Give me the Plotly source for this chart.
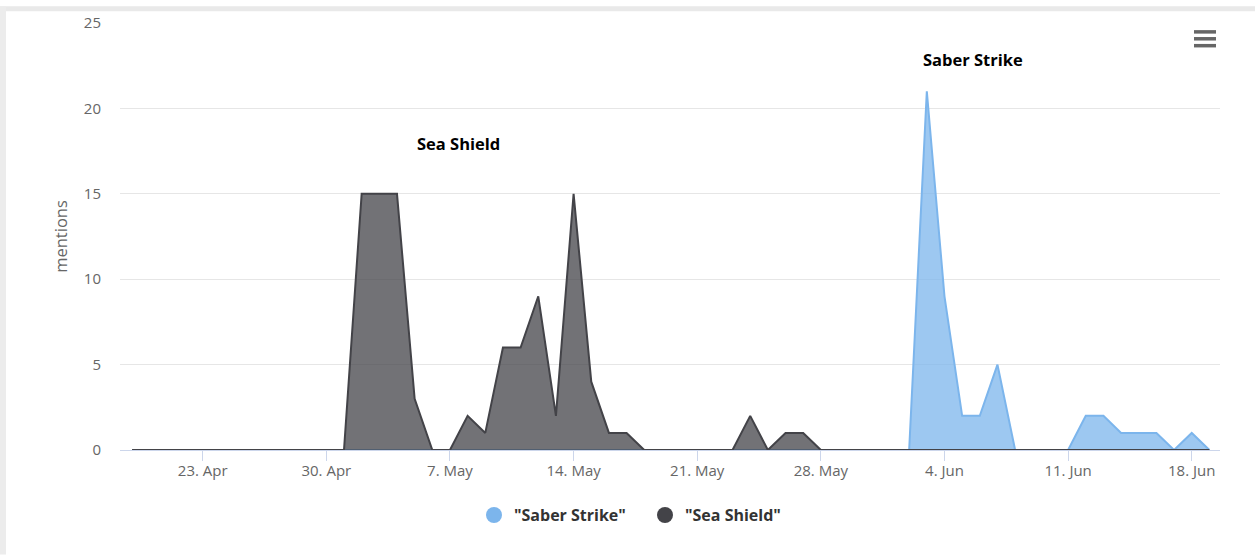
import pandas as pd
import plotly.graph_objects as go

# ---- data ----
start_date = "2013-04-19"
saber_strike = [0]*44 + [0, 21, 9, 2, 2, 5, 0, 0, 0, 0, 2, 2, 1, 1, 1, 0, 1, 0]
sea_shield = ([0]*12 +
              [0, 15, 15, 15, 3, 0, 0, 2, 1, 6, 6, 9, 2, 15, 4, 1, 1, 0,
               0, 0, 0, 0, 0, 2, 0, 1, 1, 0, 0, 0, 0] +
              [0]*19)
dates = pd.date_range(start_date, periods=len(sea_shield), freq="D")

tick_dates = ["2013-04-23", "2013-04-30", "2013-05-07", "2013-05-14", "2013-05-21",
              "2013-05-28", "2013-06-04", "2013-06-11", "2013-06-18"]
tick_labels = ["23. Apr", "30. Apr", "7. May", "14. May", "21. May",
               "28. May", "4. Jun", "11. Jun", "18. Jun"]
y_ticks = [0, 5, 10, 15, 20, 25]
series_names = ['"Saber Strike"', '"Sea Shield"']
annotations_text = ["Sea Shield", "Saber Strike"]

BLUE = "#7cb5ec"
DARK = "#434348"
FONT = "Open Sans"

# plot area in pixels
W, H = 1255, 556
L, R, T, B = 120, 1220, 17, 450
def px(x):
    return (x - L) / (R - L)
def py(y):
    return (B - y) / (B - T)

fig = go.Figure()
fig.add_trace(go.Scatter(x=dates, y=saber_strike, mode="lines", fill="tozeroy",
                         line=dict(color=BLUE, width=2), fillcolor="rgba(124,181,236,0.75)",
                         name=series_names[0], showlegend=False))
fig.add_trace(go.Scatter(x=dates, y=sea_shield, mode="lines", fill="tozeroy",
                         line=dict(color=DARK, width=2), fillcolor="rgba(67,67,72,0.75)",
                         name=series_names[1], showlegend=False))
# legend entries
fig.add_trace(go.Scatter(x=[None], y=[None], mode="markers", name=series_names[0],
                         marker=dict(color=BLUE, size=16, symbol="circle")))
fig.add_trace(go.Scatter(x=[None], y=[None], mode="markers", name=series_names[1],
                         marker=dict(color=DARK, size=16, symbol="circle")))

x_lo = pd.Timestamp("2013-04-18 07:36")
x_hi = pd.Timestamp("2013-06-19 14:24")

fig.update_layout(
    width=W, height=H,
    margin=dict(l=L, r=W - R, t=T, b=H - B),
    paper_bgcolor="white", plot_bgcolor="white",
    font=dict(family=FONT, color="#666666", size=14),
    xaxis=dict(range=[x_lo, x_hi], tickvals=tick_dates, ticktext=tick_labels,
               ticks="outside", ticklen=10, tickcolor="#ccd6eb", tickwidth=1,
               showgrid=False, showline=True, linecolor="#ccd6eb", linewidth=1,
               zeroline=False, ticklabelstandoff=-3, tickfont=dict(size=15, color="#666666")),
    yaxis=dict(range=[0, 25], tickvals=y_ticks, showgrid=True, gridcolor="#e6e6e6",
               gridwidth=1, zeroline=False, showline=False, ticks="",
               ticklabelstandoff=18, tickfont=dict(size=15, color="#666666"),
               title=dict(text="mentions", font=dict(size=16.5, color="#666666"), standoff=12)),
    legend=dict(orientation="h", x=px(474), xanchor="left", y=py(516), yanchor="middle",
                font=dict(family=FONT, size=16, color="#333333", weight="bold"),
                entrywidth=126, entrywidthmode="pixels",
                itemsizing="trace", bgcolor="rgba(0,0,0,0)"),
    showlegend=True,
    annotations=[
        dict(text=annotations_text[0], xref="paper", yref="paper", x=px(458), y=py(139),
             showarrow=False, font=dict(family=FONT, size=16.5, color="#000000", weight="bold"),
             xanchor="center", yanchor="middle"),
        dict(text=annotations_text[1], xref="paper", yref="paper", x=px(973), y=py(54),
             showarrow=False, font=dict(family=FONT, size=16.5, color="#000000", weight="bold"),
             xanchor="center", yanchor="middle"),
    ],
    shapes=[
        # page border (top / left)
        dict(type="rect", xref="paper", yref="paper", x0=px(0), x1=px(W), y0=py(5), y1=py(0),
             fillcolor="#e9e9e9", line=dict(width=0), layer="above"),
        dict(type="rect", xref="paper", yref="paper", x0=px(0), x1=px(6), y0=py(H), y1=py(0),
             fillcolor="#ececec", line=dict(width=0), layer="above"),
        # menu icon
        *[dict(type="line", xref="paper", yref="paper", x0=px(1194), x1=px(1216),
               y0=py(yy), y1=py(yy), line=dict(color="#666666", width=3.5))
          for yy in (26, 33, 40)],
    ],
)

fig.write_html("out.html")
